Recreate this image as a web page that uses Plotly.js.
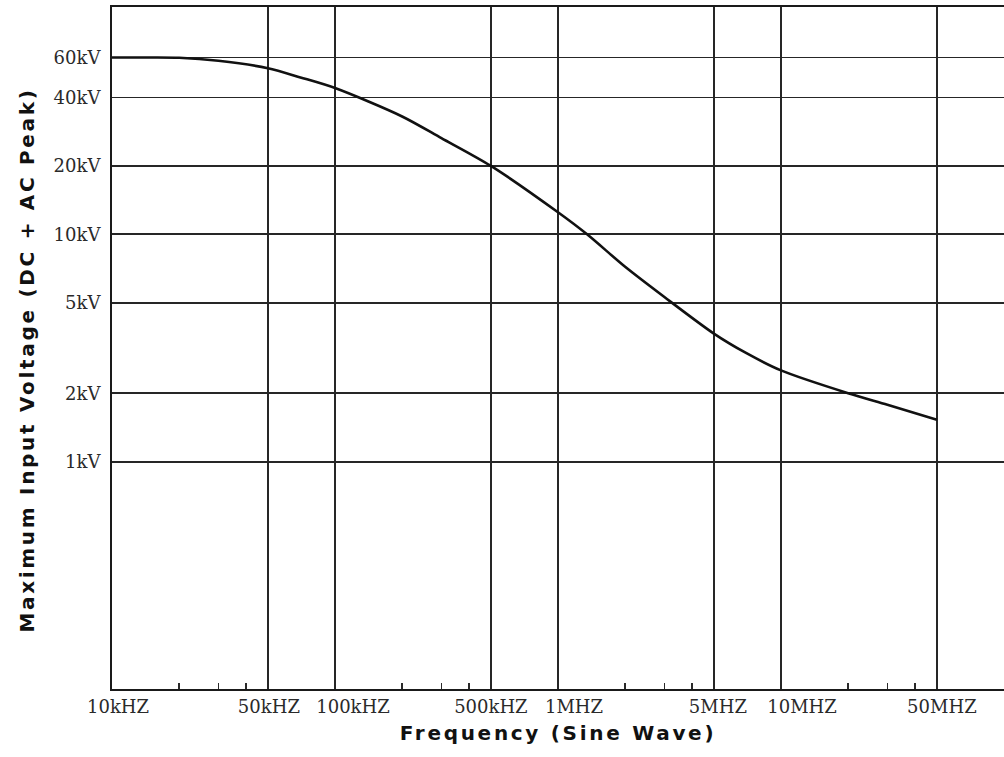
<!DOCTYPE html>
<html>
<head>
<meta charset="utf-8">
<script src="https://cdn.plot.ly/plotly-3.0.1.min.js"></script>
<style>
  html, body { margin: 0; padding: 0; background: #fff; }
  #chart { width: 1004px; height: 757px; }
  .xtitle, .ytitle { letter-spacing: 2.7px; }
  .ytitle { translate: 0 12px; }
  /* small horizontal nudges of the frequency labels, as in the original */
  .xtick text[data-unformatted="10kHZ"]  { translate: 6px 0; }
  .xtick text[data-unformatted="50kHZ"]  { translate: 1px 0; }
  .xtick text[data-unformatted="100kHZ"] { translate: 18px 0; }
  .xtick text[data-unformatted="1MHZ"]   { translate: 16px 0; }
  .xtick text[data-unformatted="5MHZ"]   { translate: 4px 0; }
  .xtick text[data-unformatted="10MHZ"]  { translate: 21px 0; }
  .xtick text[data-unformatted="50MHZ"]  { translate: 5px 0; }
</style>
</head>
<body>
<div id="chart"></div>
<script>
// ---- data ----
const frequencyHz = [1e4, 1.5e4, 2e4, 3e4, 5e4, 7e4, 1e5, 2e5, 3e5, 5e5, 1e6, 1.35e6, 2e6, 3e6, 5e6, 7e6, 1e7, 2e7, 3e7, 5e7];
const maxVoltageKV = [60, 60, 59.8, 58, 53.8, 49, 44, 33, 26.5, 20, 12.5, 10, 7.2, 5.3, 3.66, 3.0, 2.52, 2.0, 1.78, 1.53];

const xTickValues = [1e4, 5e4, 1e5, 5e5, 1e6, 5e6, 1e7, 5e7];
const xTickLabels = ['10kHZ', '50kHZ', '100kHZ', '500kHZ', '1MHZ', '5MHZ', '10MHZ', '50MHZ'];
const xMinorTicks = [2e4, 3e4, 4e4, 2e5, 3e5, 4e5, 2e6, 3e6, 4e6, 2e7, 3e7, 4e7];

const yTickValues = [1, 2, 5, 10, 20, 40, 60];
const yTickLabels = ['1kV', '2kV', '5kV', '10kV', '20kV', '40kV', '60kV'];

const xTitle = 'Frequency (Sine Wave)';
const yTitle = 'Maximum Input Voltage (DC + AC Peak)';

// ---- styling ----
const gridColor = '#262626';
const tickFont = { family: 'DejaVu Serif, Liberation Serif, serif', size: 18, color: '#2a2a2a' };
const titleFont = { family: 'DejaVu Sans, Verdana, sans-serif', size: 20, color: '#111', weight: 'bold' };

const trace = {
  x: frequencyHz,
  y: maxVoltageKV,
  type: 'scatter',
  mode: 'lines',
  line: { color: '#111', width: 2.6, shape: 'spline', smoothing: 0.8 },
  hoverinfo: 'x+y',
  showlegend: false
};

const layout = {
  width: 1004,
  height: 757,
  margin: { l: 112, r: 0, t: 7, b: 68 },
  paper_bgcolor: '#fff',
  plot_bgcolor: '#fff',
  xaxis: {
    type: 'log',
    range: [4, 8],
    tickmode: 'array',
    tickvals: xTickValues,
    ticktext: xTickLabels,
    tickfont: tickFont,
    tickangle: 0,
    ticks: '',
    showgrid: true,
    gridcolor: gridColor,
    gridwidth: 1.8,
    showline: true,
    linecolor: '#1a1a1a',
    linewidth: 2,
    mirror: true,
    zeroline: false,
    minor: {
      tickmode: 'array',
      tickvals: xMinorTicks,
      ticks: 'inside',
      ticklen: 6,
      tickwidth: 1.6,
      tickcolor: '#2a2a2a',
      showgrid: false
    },
    title: { text: xTitle, font: titleFont, standoff: 10 }
  },
  yaxis: {
    type: 'log',
    range: [-1, 2],
    tickmode: 'array',
    tickvals: yTickValues,
    ticktext: yTickLabels,
    tickfont: tickFont,
    tickangle: 0,
    ticks: 'outside',
    ticklen: 6,
    tickcolor: 'rgba(0,0,0,0)',
    showgrid: true,
    gridcolor: gridColor,
    gridwidth: 1.8,
    showline: true,
    linecolor: '#1a1a1a',
    linewidth: 2,
    mirror: false,
    zeroline: false,
    title: { text: yTitle, font: titleFont, standoff: 14 }
  }
};

Plotly.newPlot('chart', [trace], layout, { staticPlot: true, displayModeBar: false });
</script>
</body>
</html>
